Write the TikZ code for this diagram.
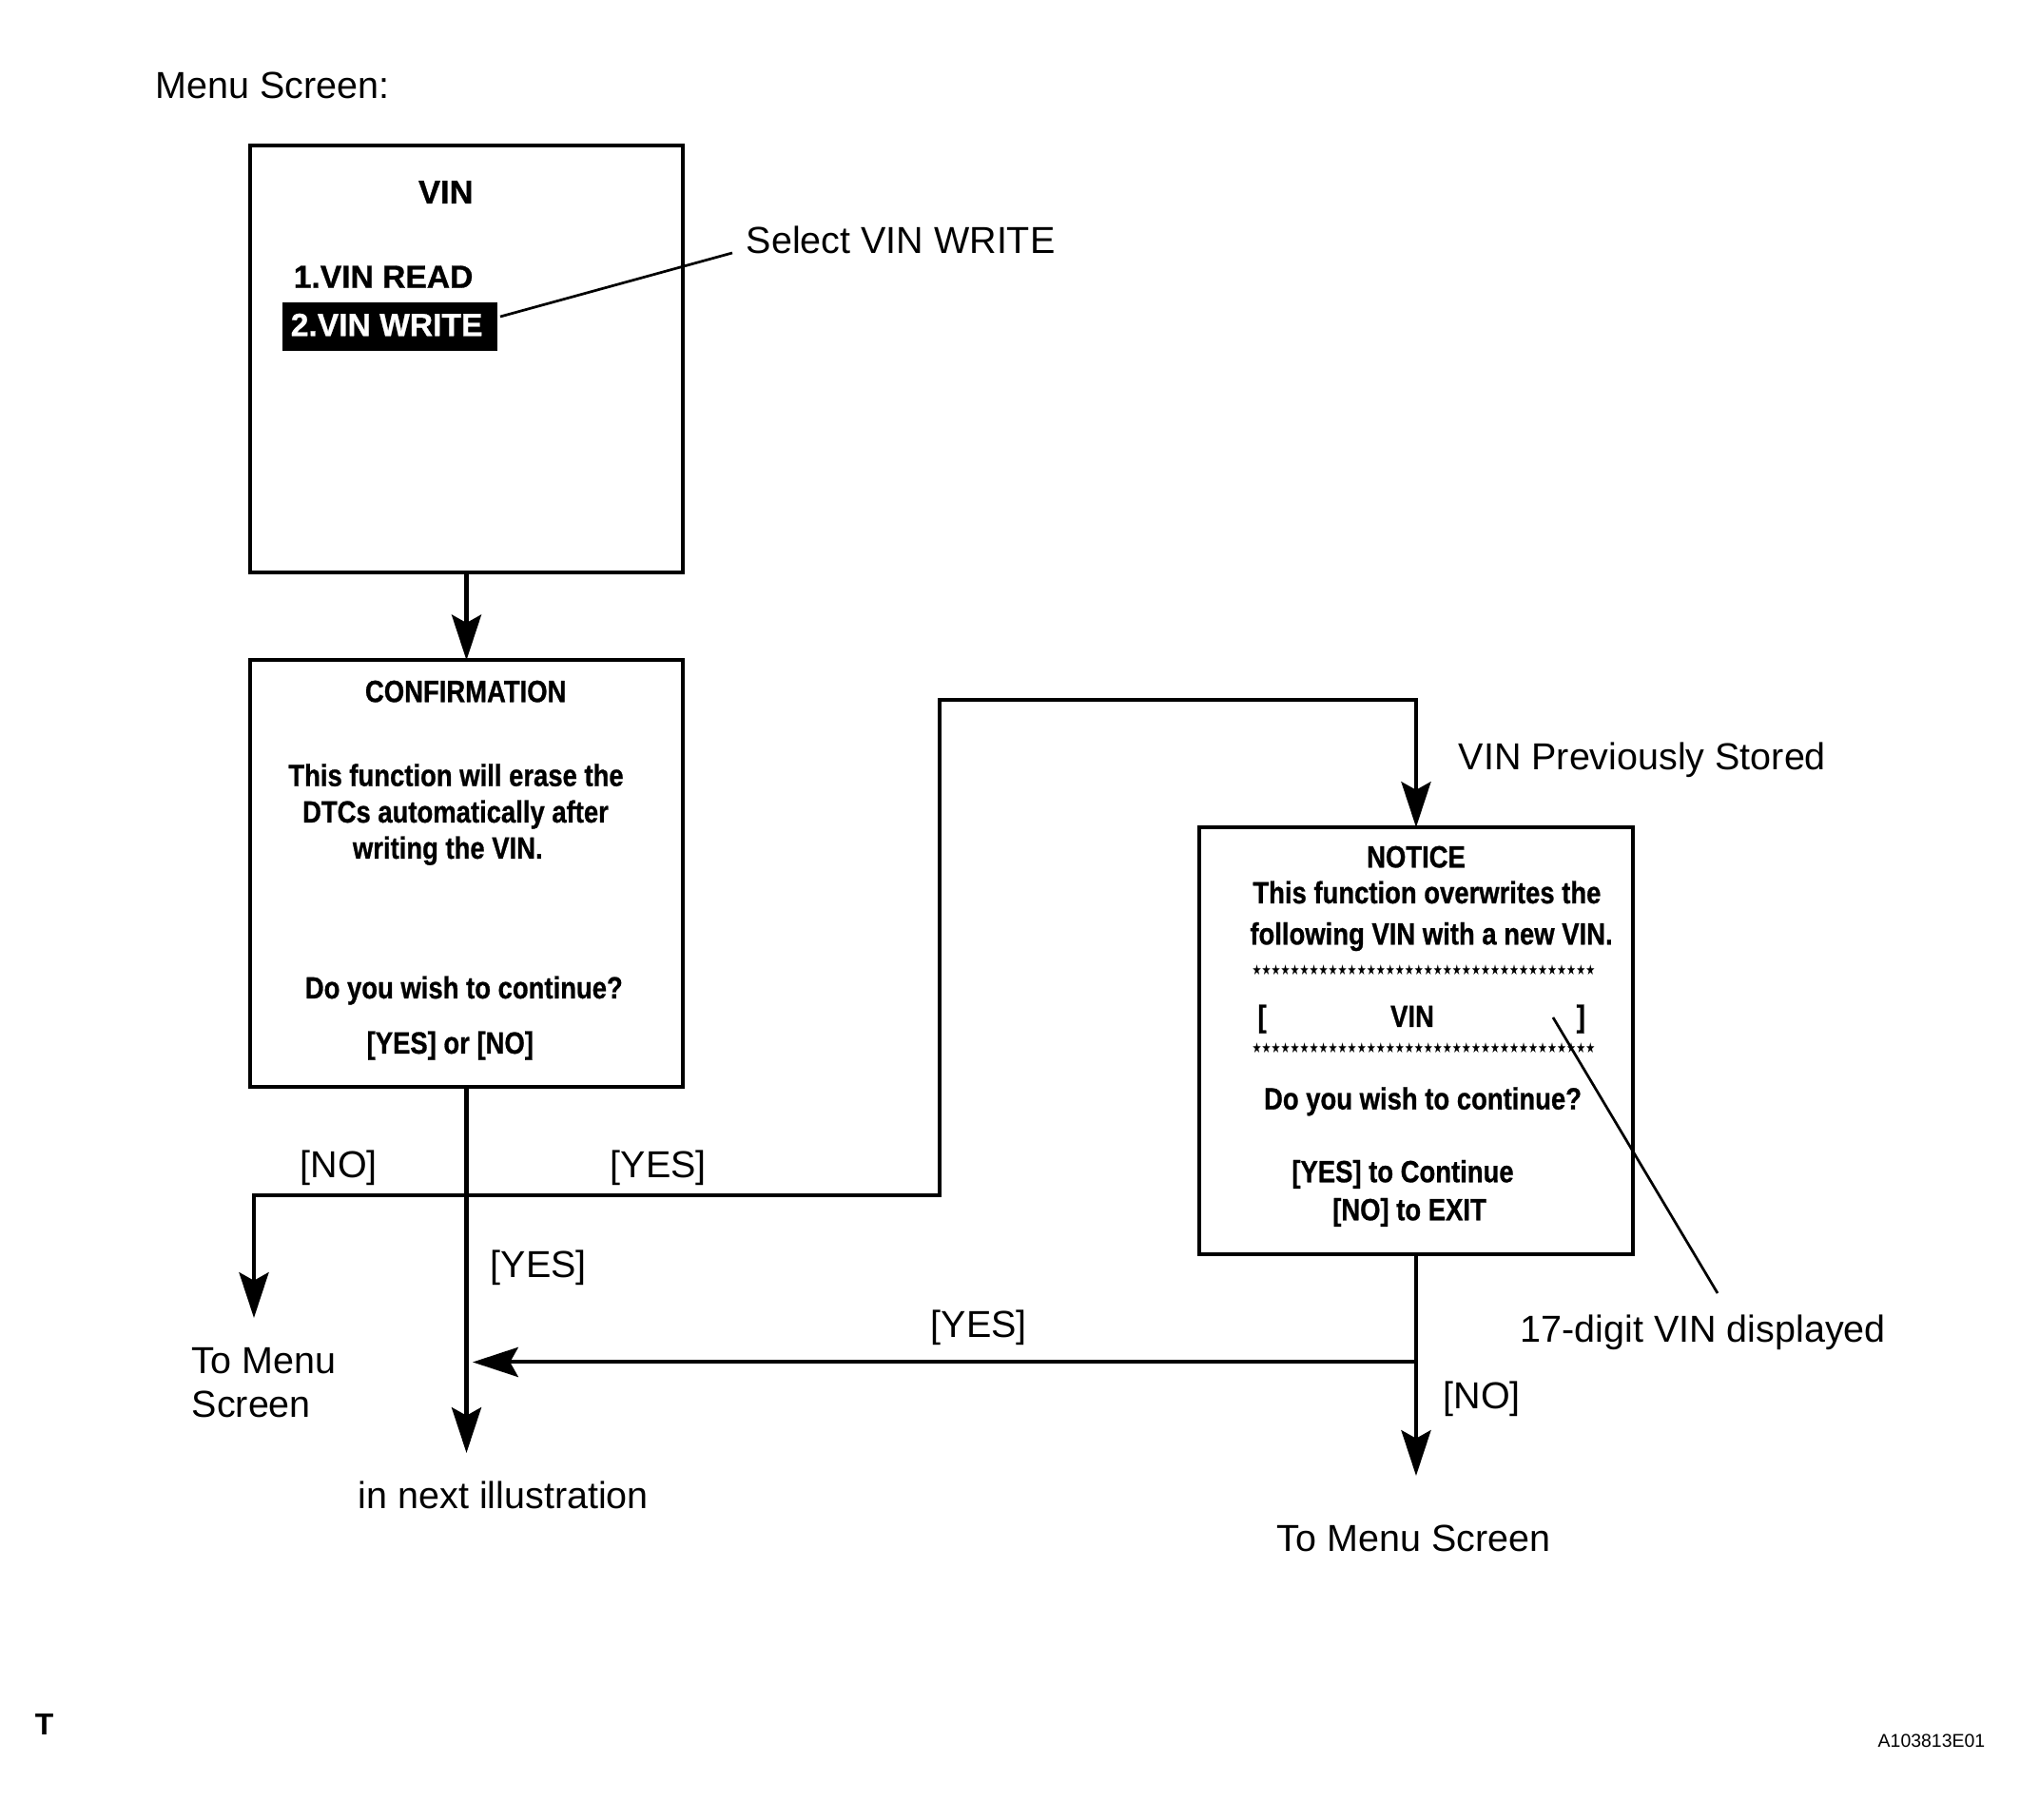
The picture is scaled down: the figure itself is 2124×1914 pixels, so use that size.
\documentclass[tikz,border=0pt]{standalone}
\usepackage{fontspec}
\usepackage{graphicx}
\setmainfont{Liberation Sans}
\newfontfamily\condfam[FakeStretch=0.85,FakeBold=0.8]{Liberation Sans}
\newfontfamily\heavyfam[FakeBold=0.8]{Liberation Sans}
\newfontfamily\symfont{DejaVu Sans}
\usetikzlibrary{arrows.meta}
\newcommand{\starrow}{\resizebox{92.8pt}{2.8pt}{\symfont ★★★★★★★★★★★★★★★★★★★★★★★★★★★★★★★★★★★★}}
\tikzset{
  screen/.style={draw, line width=1.03pt, minimum width=117.2pt, minimum height=115.4pt, inner sep=0pt, outer sep=0pt},
  flow/.style={line width=1.03pt, -{Stealth[length=12.3pt,width=8pt,inset=2.2pt]}},
  leader/.style={line width=0.7pt},
  lbl/.style={font=\fontsize{10.15}{12}\selectfont, inner sep=0pt, anchor=base west},
  scr/.style={font=\condfam\bfseries\fontsize{8.3}{9.8}\selectfont, inner sep=0pt, anchor=base},
  menuitem/.style={font=\heavyfam\bfseries\fontsize{8.64}{10}\selectfont, inner sep=0pt, anchor=base west},
}
\begin{document}
\begin{tikzpicture}[x=0.257062pt, y=-0.257062pt]
\useasboundingbox (0,0) rectangle (2124,1914);

% ---- boxes
\node[screen] (vinbox) at (490.5,377.8) {};
\node[screen] (confbox) at (490.5,918.8) {};
\node[screen] (noticebox) at (1489,1094.5) {};

% ---- VIN screen
\node[lbl] (menu) at (163,104) {Menu Screen:};
\node[font=\heavyfam\bfseries\fontsize{8.87}{10}\selectfont, inner sep=0pt, anchor=base] (vintitle) at (468.8,214) {VIN};
\node[menuitem] (vinread) at (308,302.7) {1.VIN READ};
\node[fill=black, inner sep=0pt, minimum width=57.94pt, minimum height=13.11pt] (hl) at (410,343.8) {};
\node[menuitem, text=white] (vinwrite) at (305,353.3) {2.VIN WRITE};
\node[lbl] (selwrite) at (784,267) {Select VIN WRITE};
\coordinate (la) at (526,333);
\coordinate (lb) at (770,266);
\draw[leader] (la) -- (lb);

% ---- CONFIRMATION screen
\node[scr] (c1) at (489.7,738.3) {CONFIRMATION};
\node[scr] (c2) at (479.5,826.7) {This function will erase the};
\node[scr] (c3) at (479,865) {DTCs automatically after};
\node[scr] (c4) at (470.8,903) {writing the VIN.};
\node[scr] (c5) at (487.8,1050) {Do you wish to continue?};
\node[scr] (c6) at (473.3,1108) {[YES] or [NO]};

% ---- NOTICE screen
\node[scr] (n1) at (1489,912.3) {NOTICE};
\node[scr] (n2) at (1500.4,950) {This function overwrites the};
\node[scr] (n3) at (1505,993.3) {following VIN with a new VIN.};
\node[inner sep=0pt] (st1) at (1497,1020) {\starrow};
\node[scr, anchor=base west] (br1) at (1321.7,1080) {[};
\node[scr] (nvin) at (1485,1080) {VIN};
\node[scr, anchor=base east] (br2) at (1667.7,1080) {]};
\node[inner sep=0pt] (st2) at (1497,1101.7) {\starrow};
\node[scr] (n4) at (1496,1166.7) {Do you wish to continue?};
\node[scr] (n5) at (1475,1243.3) {[YES] to Continue};
\node[scr] (n6) at (1482,1283.3) {[NO] to EXIT};
\node[lbl] (prev) at (1533,810) {VIN Previously Stored};
\coordinate (da) at (1633,1070);
\coordinate (db) at (1806,1360);
\draw[leader] (da) -- (db);
\node[lbl] (digit) at (1598,1412) {17-digit VIN displayed};

% ---- flow connectors
\coordinate (j) at (490.5,1257);
\coordinate (notip) at (267,1386);
\coordinate (yestop) at (988,736);
\coordinate (maintip) at (490.5,1528);
\coordinate (nj) at (1489,1432.5);
\coordinate (ltip) at (497,1432.5);
\coordinate (ntip) at (1489,1552);

\draw[flow] (vinbox.south) -- (confbox.north);
\draw[flow] (confbox.south) -- (maintip);
\draw[flow] (j) -| (notip);
\draw[flow] (j) -| (yestop) -| (noticebox.north);
\draw[flow] (noticebox.south) -- (ntip);
\draw[flow] (nj) -- (ltip);

% ---- flow labels
\node[lbl] (lno1) at (315,1239) {[NO]};
\node[lbl] (lyes1) at (641,1239) {[YES]};
\node[lbl] (lyes2) at (515,1344) {[YES]};
\node[lbl] (tm1) at (201,1444.5) {To Menu};
\node[lbl] (tm2) at (201,1491) {Screen};
\node[lbl] (next) at (376,1587) {in next illustration};
\node[lbl] (lyes3) at (978,1407) {[YES]};
\node[lbl] (lno2) at (1517,1482) {[NO]};
\node[lbl] (tm3) at (1342,1631.7) {To Menu Screen};

% ---- corner marks
\node[font=\bfseries\fontsize{8.2}{10}\selectfont, inner sep=0pt, anchor=base west] (tmark) at (36,1825) {T};
\node[font=\fontsize{5}{6}\selectfont, inner sep=0pt, anchor=base east] (code) at (2088,1838) {A103813E01};
\end{tikzpicture}
\end{document}
